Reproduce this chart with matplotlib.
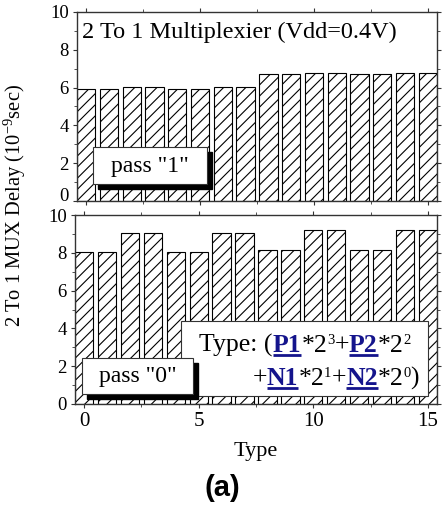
import numpy as np
import matplotlib
matplotlib.use('Agg')
import matplotlib.pyplot as plt
from matplotlib.patches import Rectangle

plt.rcParams['font.family'] = ['Liberation Serif', 'DejaVu Serif']
plt.rcParams['mathtext.fontset'] = 'custom'
plt.rcParams['mathtext.rm'] = 'Liberation Serif'
plt.rcParams['mathtext.it'] = 'Liberation Serif:italic'
plt.rcParams['mathtext.bf'] = 'Liberation Serif:bold'
plt.rcParams['hatch.linewidth'] = 0.8

# data
types = np.arange(16)
delay_pass1 = [5.95, 5.95, 6.05, 6.05, 5.95, 5.95, 6.05, 6.05,
               6.7, 6.7, 6.75, 6.75, 6.7, 6.7, 6.75, 6.75]
delay_pass0 = [8.05, 8.05, 9.05, 9.05, 8.05, 8.05, 9.05, 9.05,
               8.15, 8.15, 9.2, 9.2, 8.15, 8.15, 9.2, 9.2]

W, H = 444, 507
fig = plt.figure(figsize=(W / 100, H / 100), dpi=100)

def px_axes(l, t, r, b):
    return fig.add_axes([l / W, (H - b) / H, (r - l) / W, (b - t) / H])

ax1 = px_axes(77, 12, 437, 201)
ax2 = px_axes(75, 215, 437, 404)

spine_col = '#333333'
navy = '#14148c'

for ax, vals in [(ax1, delay_pass1), (ax2, delay_pass0)]:
    ax.bar(types, vals, width=0.8, color='white', edgecolor='black',
           linewidth=0.8, hatch='///', zorder=2)
    ax.set_xlim(-0.4, 15.4)
    ax.set_ylim(0, 10)
    ax.set_yticks([0, 2, 4, 6, 8, 10])
    ax.set_yticks([1, 3, 5, 7, 9], minor=True)
    ax.set_xticks([0, 5, 10, 15])
    ax.set_xticks([2.5, 7.5, 12.5], minor=True)
    for s in ax.spines.values():
        s.set_color(spine_col)
        s.set_linewidth(1.0)
    ax.tick_params(which='both', direction='out', top=True, right=True,
                   color=spine_col, labelsize=13.5, pad=3)
    ax.tick_params(which='major', length=3)
    ax.tick_params(which='minor', length=2)

ax1.tick_params(axis='x', labelbottom=False)
ax2.tick_params(axis='x', labelsize=15)
# the "0" of the top panel and the "10" of the lower one sit close together
ax1.get_yticklabels()[0].set_va('baseline')

ax1.text(0.014, 0.862, '2 To 1 Multiplexier (Vdd=0.4V)', transform=ax1.transAxes,
         fontsize=17.5, va='baseline', ha='left', zorder=6)

def shadow_box(ax, x0, y0, x1, y1, label, tx, ty, ax_w, ax_h):
    dx, dy = 5 / ax_w, 5 / ax_h
    ax.add_patch(Rectangle((x0 + dx, y0 - dy), x1 - x0, y1 - y0, transform=ax.transAxes,
                           facecolor='black', edgecolor='black', zorder=7, clip_on=False))
    ax.add_patch(Rectangle((x0, y0), x1 - x0, y1 - y0, transform=ax.transAxes,
                           facecolor='white', edgecolor=spine_col, lw=0.8, zorder=7,
                           clip_on=False))
    ax.text(tx, ty, label, transform=ax.transAxes, fontsize=17,
            ha='center', va='center', zorder=8)

shadow_box(ax1, 0.044, 0.09, 0.361, 0.286, 'pass "1"', 0.203, 0.185, 360, 189)
shadow_box(ax2, 0.019, 0.053, 0.326, 0.245, 'pass "0"', 0.173, 0.148, 362, 189)

# type legend box
ax2.add_patch(Rectangle((0.292, 0.042), 0.974 - 0.292, 0.44 - 0.042, transform=ax2.transAxes,
                        facecolor='white', edgecolor=spine_col, lw=0.8, zorder=5))

renderer = fig.canvas.get_renderer()

def line_of_pieces(ax, x, y, pieces):
    inv = ax.transAxes.inverted()
    for s, style in pieces:
        kw = dict(fontsize=18.5, va='baseline', ha='left', zorder=6, transform=ax.transAxes)
        yy = y
        if style == 'b':
            kw.update(color=navy, fontweight='bold')
        elif style == 'sup':
            kw.update(fontsize=10.5)
            yy = y + 8.0 / 189
        t = ax.text(x, yy, s, **kw)
        bb = t.get_window_extent(renderer=renderer)
        (bx0, _), (bx1, _) = inv.transform([[bb.x0, bb.y0], [bb.x1, bb.y1]])
        if style == 'b':
            yu = y - 3.0 / 189
            ax.plot([bx0, bx1], [yu, yu], transform=ax.transAxes, color=navy,
                    lw=2.0, solid_capstyle='butt', zorder=6)
        x = bx1

line_of_pieces(ax2, 0.343, 0.277,
               [('Type: (', 'n'), ('P1', 'b'), ('*2', 'n'), ('3', 'sup'), ('+', 'n'),
                ('P2', 'b'), ('*2', 'n'), ('2', 'sup')])
line_of_pieces(ax2, 0.49, 0.1005,
               [('+', 'n'), ('N1', 'b'), ('*2', 'n'), ('1', 'sup'), ('+', 'n'),
                ('N2', 'b'), ('*2', 'n'), ('0', 'sup'), (')', 'n')])

ax2.set_xlabel('Type', fontsize=16, labelpad=8)
fig.text(0.034, (H - 205) / H, '2 To 1 MUX Delay (10$^{-9}$sec)', rotation=90,
         fontsize=14.8, ha='center', va='center')
fig.text(0.5, (H - 488) / H, '(a)', fontsize=21, fontweight='bold',
         family='Liberation Sans', ha='center', va='center')

fig.savefig('out.png', dpi=100)
